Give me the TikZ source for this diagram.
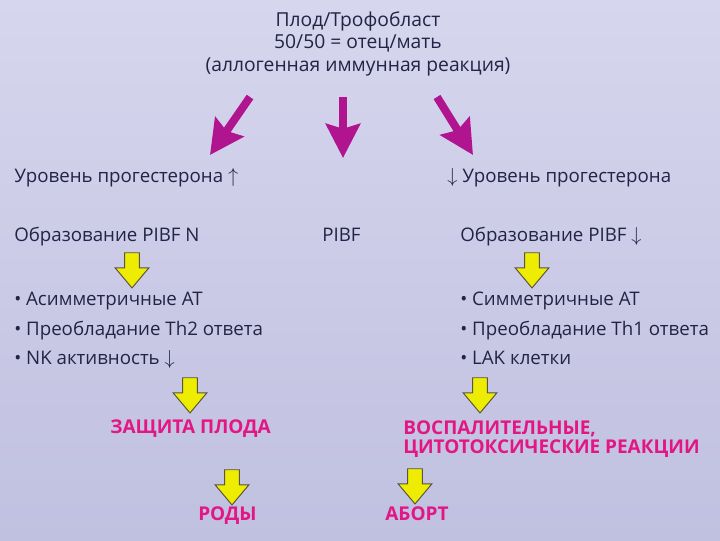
\documentclass[tikz,border=0pt]{standalone}
\usepackage{fontspec}
\setmainfont{Open Sans}
\usetikzlibrary{arrows.meta,shapes.arrows}

\definecolor{txtcol}{RGB}{35,35,70}
\definecolor{pinkcol}{RGB}{226,22,132}
\definecolor{magcol}{RGB}{176,20,142}
\definecolor{yelcol}{RGB}{238,236,0}
\definecolor{bgtop}{RGB}{214,214,238}
\definecolor{bgbot}{RGB}{192,192,224}

\tikzset{
  txt/.style={anchor=base west, inner sep=0pt, text=txtcol, font=\fontsize{13.3}{15}\selectfont},
  hot/.style={txt, text=pinkcol, font=\fontsize{13.5}{13}\selectfont\bfseries},
  head/.style={anchor=north, inner sep=0pt, align=center, text=txtcol, font=\fontsize{13.7}{16.3}\selectfont},
  magarrow/.style={draw=magcol, line width=0.2cm, -{Stealth[width=0.85cm,length=0.85cm,inset=0.12cm]}},
  yarrow/.style={single arrow, shape border rotate=270, draw=black!75!yellow, fill=yelcol,
    line width=0.7pt, inner xsep=0.17cm, inner ysep=0pt, minimum width=0.83cm, minimum height=0.88cm,
    single arrow head extend=0.24cm, single arrow tip angle=80}
}

\begin{document}
\begin{tikzpicture}[x=0.025cm,y=-0.025cm]
% background
\shade[top color=bgtop,bottom color=bgbot] (0,0) rectangle (720,540);
\useasboundingbox (0,0) rectangle (720,540);

% top
\node[head] (fetus) at (358,11) {Плод/Трофобласт\\50/50 = отец/мать\\(аллогенная иммунная реакция)};

\coordinate (la) at (250,97);
\coordinate (lb) at (210,155);
\coordinate (ma) at (343,97);
\coordinate (mb) at (343,158);
\coordinate (ra) at (437,97);
\coordinate (rb) at (473,155);
\draw[magarrow] (la) -- (lb);
\draw[magarrow] (ma) -- (mb);
\draw[magarrow] (ra) -- (rb);

% left
\node[txt] (progL) at (14,182) {Уровень прогестерона $\uparrow$};
\node[txt] (pibfL) at (14,241) {Образование PIBF N};
\node[yarrow] (ya) at (132,266) {};
\node[txt] (asym) at (14,305) {\textbullet\ Асимметричные АТ};
\node[txt] (thtwo) at (14,335) {\textbullet\ Преобладание Th2 ответа};
\node[txt] (nk) at (14,364) {\textbullet\ NK активность $\downarrow$};
\node[yarrow] (yc) at (190,391) {};
\node[hot] (protect) at (110,433) {ЗАЩИТА ПЛОДА};
\node[yarrow] (ye) at (232,483) {};
\node[hot] (birth) at (198,520) {РОДЫ};

% middle
\node[txt] (pibfM) at (322,241) {PIBF};

% right
\node[txt] (progR) at (447,182) {$\downarrow$ Уровень прогестерона};
\node[txt] (pibfR) at (460,241) {Образование PIBF $\downarrow$};
\node[yarrow] (yb) at (532,266) {};
\node[txt] (sym) at (460,305) {\textbullet\ Симметричные АТ};
\node[txt] (thone) at (460,335) {\textbullet\ Преобладание Th1 ответа};
\node[txt] (lak) at (460,364) {\textbullet\ LAK клетки};
\node[yarrow] (yd) at (480,391) {};
\node[hot, align=left] (inflam) at (403,453) {ВОСПАЛИТЕЛЬНЫЕ,\\ЦИТОТОКСИЧЕСКИЕ РЕАКЦИИ};
\node[yarrow] (yf) at (415,482) {};
\node[hot] (abort) at (385,520) {АБОРТ};
\end{tikzpicture}
\end{document}
